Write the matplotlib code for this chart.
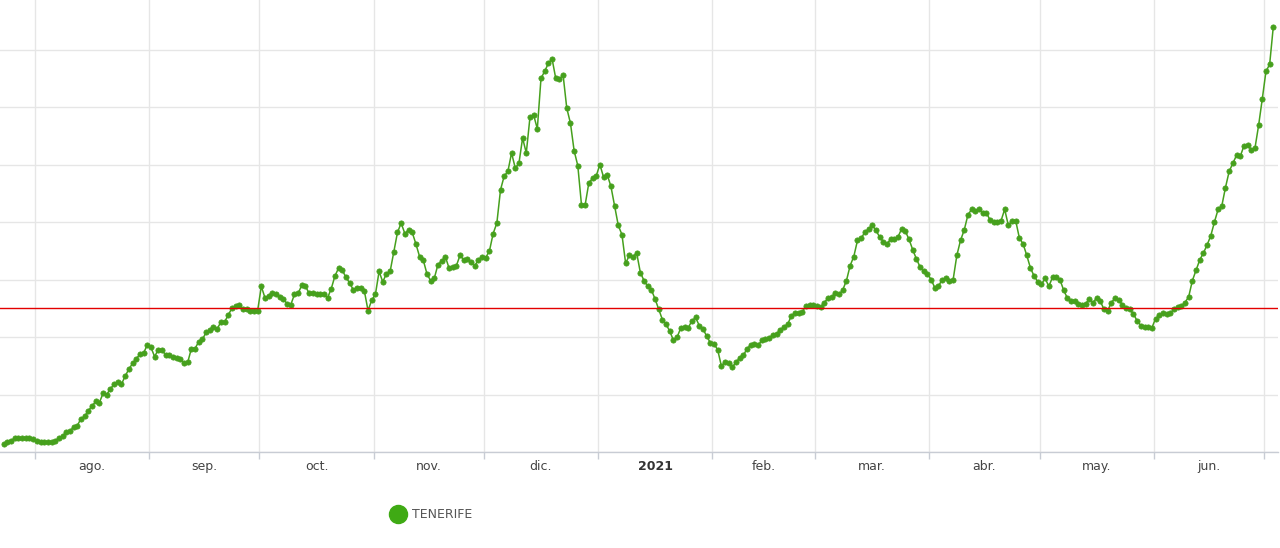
import matplotlib
matplotlib.use("Agg")
import matplotlib.pyplot as plt
import matplotlib.dates as mdates
from matplotlib.lines import Line2D
import pandas as pd
import numpy as np

# ---- data (arbitrary units, gridline step = 50) ----
start_date = "2020-07-23"
series_name = "TENERIFE"
values = [
    7, 9, 10, 12, 12, 12, 12, 12, 11, 10,
    9, 9, 9, 9, 10, 12, 14, 17, 18, 22,
    23, 29, 31, 36, 40, 44, 43, 51, 50, 55,
    59, 61, 59, 66, 72, 77, 81, 85, 86, 93,
    91, 83, 89, 89, 84, 84, 83, 82, 81, 77,
    78, 90, 90, 96, 98, 104, 106, 109, 107, 113,
    113, 119, 125, 127, 128, 124, 124, 123, 123, 123,
    144, 134, 136, 138, 137, 135, 133, 129, 128, 137,
    138, 145, 144, 138, 138, 137, 137, 137, 134, 142,
    153, 160, 158, 152, 147, 141, 143, 143, 140, 123,
    132, 137, 157, 148, 155, 157, 174, 191, 199, 190,
    193, 191, 181, 170, 167, 155, 149, 151, 163, 166,
    170, 160, 161, 162, 171, 167, 168, 165, 162, 167,
    170, 169, 175, 190, 199, 228, 240, 244, 260, 247,
    251, 273, 260, 291, 293, 281, 325, 331, 338, 342,
    325, 324, 328, 299, 286, 262, 249, 215, 215, 234,
    238, 240, 250, 239, 241, 231, 214, 197, 189, 164,
    171, 170, 173, 156, 149, 144, 141, 133, 124, 115,
    111, 105, 97, 100, 108, 109, 108, 114, 117, 110,
    107, 101, 95, 94, 89, 75, 78, 77, 74, 78,
    82, 84, 90, 93, 94, 93, 97, 98, 99, 102,
    103, 106, 109, 111, 118, 121, 121, 122, 127, 128,
    128, 127, 126, 130, 134, 135, 138, 137, 141, 149,
    162, 170, 184, 186, 191, 194, 197, 193, 187, 183,
    181, 185, 185, 187, 194, 192, 185, 176, 168, 161,
    157, 155, 150, 143, 144, 150, 151, 149, 150, 171,
    184, 193, 206, 211, 210, 211, 208, 208, 202, 200,
    200, 201, 211, 197, 201, 201, 186, 181, 171, 160,
    153, 148, 146, 151, 144, 152, 152, 150, 141, 134,
    131, 131, 129, 128, 129, 133, 130, 134, 131, 124,
    123, 130, 134, 132, 128, 125, 124, 120, 114, 110,
    109, 109, 108, 116, 119, 121, 120, 121, 124, 126,
    127, 130, 135, 149, 158, 167, 173, 180, 188, 200,
    211, 214, 230, 244, 251, 258, 257, 266, 267, 263,
    264, 284, 307, 331, 337, 370,
]
threshold = 125
month_labels = ["ago.", "sep.", "oct.", "nov.", "dic.", "2021",
                "feb.", "mar.", "abr.", "may.", "jun."]

dates = pd.date_range(start_date, periods=len(values), freq="D") + pd.Timedelta(hours=12)

# ---- style ----
green = "#46a01d"
grid_c = "#e6e6e6"
axis_c = "#c8ccd4"

W, H = 1280, 548
fig = plt.figure(figsize=(W / 100, H / 100), dpi=100)
ax = fig.add_axes([0, (H - 452) / H, 1278 / W, 452 / H])

ax.plot(dates, values, color=green, lw=1.1, marker="o", ms=3.8,
        mfc=green, mec=green, mew=0.5, zorder=3)
ax.axhline(threshold, color="#e30000", lw=1.0, zorder=4)

# x limits: month boundaries at fixed pixel spacing (3.68 px/day)
aug1 = pd.Timestamp("2020-08-01")
px_per_day = 3.68
x0 = aug1 - pd.Timedelta(days=35 / px_per_day)
x1 = aug1 + pd.Timedelta(days=(1278 - 35) / px_per_day)
ax.set_xlim(x0, x1)
ax.set_ylim(0, 452 / 57.5 * 50)

# month start ticks (grid + tick marks)
month_starts = pd.date_range("2020-08-01", "2021-07-01", freq="MS")
ax.set_xticks(month_starts)
ax.set_xticklabels([])
ax.tick_params(axis="x", which="major", length=5, color=axis_c, width=1)

# labels centered in each month
mids = []
for ms_ in month_starts[:-1]:
    nxt = ms_ + pd.offsets.MonthBegin(1)
    mids.append(ms_ + (nxt - ms_) / 2)
ax.set_xticks(mids, minor=True)
ax.set_xticklabels(month_labels, minor=True)
ax.tick_params(axis="x", which="minor", length=0, pad=6, labelsize=9,
               labelcolor="#444444")
for lbl in ax.get_xticklabels(minor=True):
    if lbl.get_text() == "2021":
        lbl.set_fontweight("bold")
        lbl.set_color("#333333")

ax.set_yticks(np.arange(0, 400, 50))
ax.set_yticklabels([])
ax.tick_params(axis="y", length=0)

ax.grid(True, which="major", color=grid_c, lw=1.0, zorder=0)
ax.set_axisbelow(True)
for s in ["top", "right", "left"]:
    ax.spines[s].set_visible(False)
ax.spines["bottom"].set_color(axis_c)
ax.spines["bottom"].set_linewidth(1.0)

handle = Line2D([], [], marker="o", color="none", markerfacecolor="#3faa14",
                markeredgecolor="#3faa14", markersize=13)
fig.legend([handle], [series_name], loc="center left",
           bbox_to_anchor=(380 / W, 1 - 515 / H), frameon=False,
           handlelength=1.0, handletextpad=0.7, fontsize=9,
           labelcolor="#555555")

fig.savefig("out.png", dpi=100)
